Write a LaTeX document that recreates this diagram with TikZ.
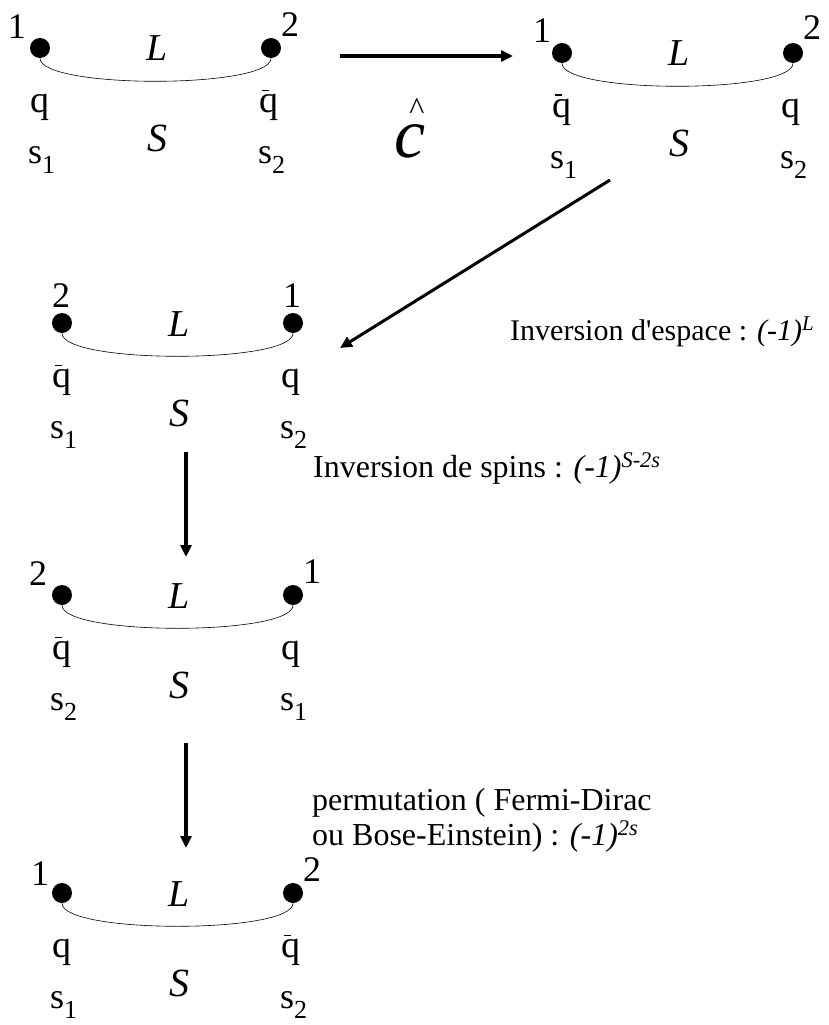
\documentclass[tikz,border=0pt]{standalone}
\usepackage{fontspec}
\setmainfont{Liberation Serif}
\usetikzlibrary{arrows.meta,positioning}
\tikzset{
  bille/.style={circle,fill=black,inner sep=0pt,minimum size=20pt},
  lien/.style={black,line width=0.6pt},
  fleche/.style={-{Triangle[length=12pt,width=11pt]},line width=3.5pt},
  txt/.style={font=\fontsize{36}{40}\selectfont,inner sep=0pt,anchor=base},
  lettre/.style={font=\fontsize{38}{40}\selectfont\itshape,inner sep=0pt,anchor=base},
  legende/.style={font=\fontsize{30}{34}\selectfont,inner sep=0pt,anchor=base west}
}
% q barre et s indice
\newcommand{\qbarre}{\makebox[0pt][l]{\hspace{2pt}\raisebox{21pt}{\rule{7pt}{1.5pt}}}q}
\newcommand{\sind}[1]{s\raisebox{-10pt}{\fontsize{26}{26}\selectfont #1}}
% une paire de particules
\newcommand{\paire}[9]{%
  \node[bille] (#1g) at (0,0) {};
  \node[bille] (#1d) at (231,0) {};
  \draw[lien] (#1g.south) .. controls (0,41) and (231,41) .. (#1d.south);
  \node[txt] (#1ng) at #8 {#2};
  \node[txt] (#1nd) at #9 {#3};
  \node[lettre] (#1L) at (117,13) {L};
  \node[txt,font=\fontsize{38}{40}\selectfont] (#1qg) at (0,64) {#4};
  \node[txt,font=\fontsize{38}{40}\selectfont] (#1qd) at (229,64) {#5};
  \node[lettre,font=\fontsize{40}{42}\selectfont\itshape] (#1S) at (117,103) {S};
  \node[txt,anchor=base west] (#1sg) at (-12,115) {\sind{#6}};
  \node[txt,anchor=base west] (#1sd) at (218,115) {\sind{#7}};
}

\begin{document}
\begin{tikzpicture}[x=1pt,y=-1pt]
\useasboundingbox (0,0) rectangle (828,1025);
% etat initial
\begin{scope}[shift={(40,48)}]
\paire{a}{1}{2}{q}{\qbarre}{1}{2}{(-23,-9)}{(250,-11)}
\end{scope}
% conjugaison de charge
\begin{scope}[shift={(562,53)}]
\paire{b}{1}{2}{\qbarre}{q}{1}{2}{(-20,-10)}{(250,-13)}
\end{scope}
% inversion d'espace
\begin{scope}[shift={(62,323)}]
\paire{c}{2}{1}{\qbarre}{q}{1}{2}{(-1,-16)}{(230,-16)}
\end{scope}
% inversion des spins
\begin{scope}[shift={(62,595)}]
\paire{d}{2}{1}{\qbarre}{q}{2}{1}{(-24,-10)}{(250,-12)}
\end{scope}
% permutation
\begin{scope}[shift={(62,893)}]
\paire{e}{1}{2}{q}{\qbarre}{1}{2}{(-22,-8)}{(250,-12)}
\end{scope}
% fleches
\coordinate (h1) at (340,56);
\coordinate (h2) at (513,56);
\draw[fleche] (h1) -- (h2);
\node[lettre,font=\fontsize{70}{70}\selectfont\itshape,anchor=base] (chat) at (410,157)
  {\makebox[0pt][l]{\hspace{15pt}\raisebox{38pt}{\upshape\fontsize{32}{32}\selectfont\textasciicircum}}c};
\coordinate (o1) at (610,180);
\coordinate (o2) at (340,348);
\draw[fleche,line width=3pt] (o1) -- (o2);
\coordinate (v1) at (186,452);
\coordinate (v2) at (186,557);
\draw[fleche] (v1) -- (v2);
\coordinate (w1) at (186,743);
\coordinate (w2) at (186,848);
\draw[fleche] (w1) -- (w2);
% legendes
\node[legende] (espace) at (510,340) {Inversion d\textquotesingle espace : \textit{(-1)}\textsuperscript{\textit{L}}};
\node[legende,font=\fontsize{32}{34}\selectfont] (spins) at (313,477) {Inversion de spins : \textit{(-1)}\textsuperscript{\textit{S-2s}}};
\node[legende,font=\fontsize{32}{34}\selectfont] (perm) at (312,810) {permutation ( Fermi-Dirac};
\node[legende,font=\fontsize{32}{34}\selectfont] (perm2) at (312,845) {ou Bose-Einstein) : \textit{(-1)}\textsuperscript{\textit{2s}}};
\end{tikzpicture}
\end{document}
